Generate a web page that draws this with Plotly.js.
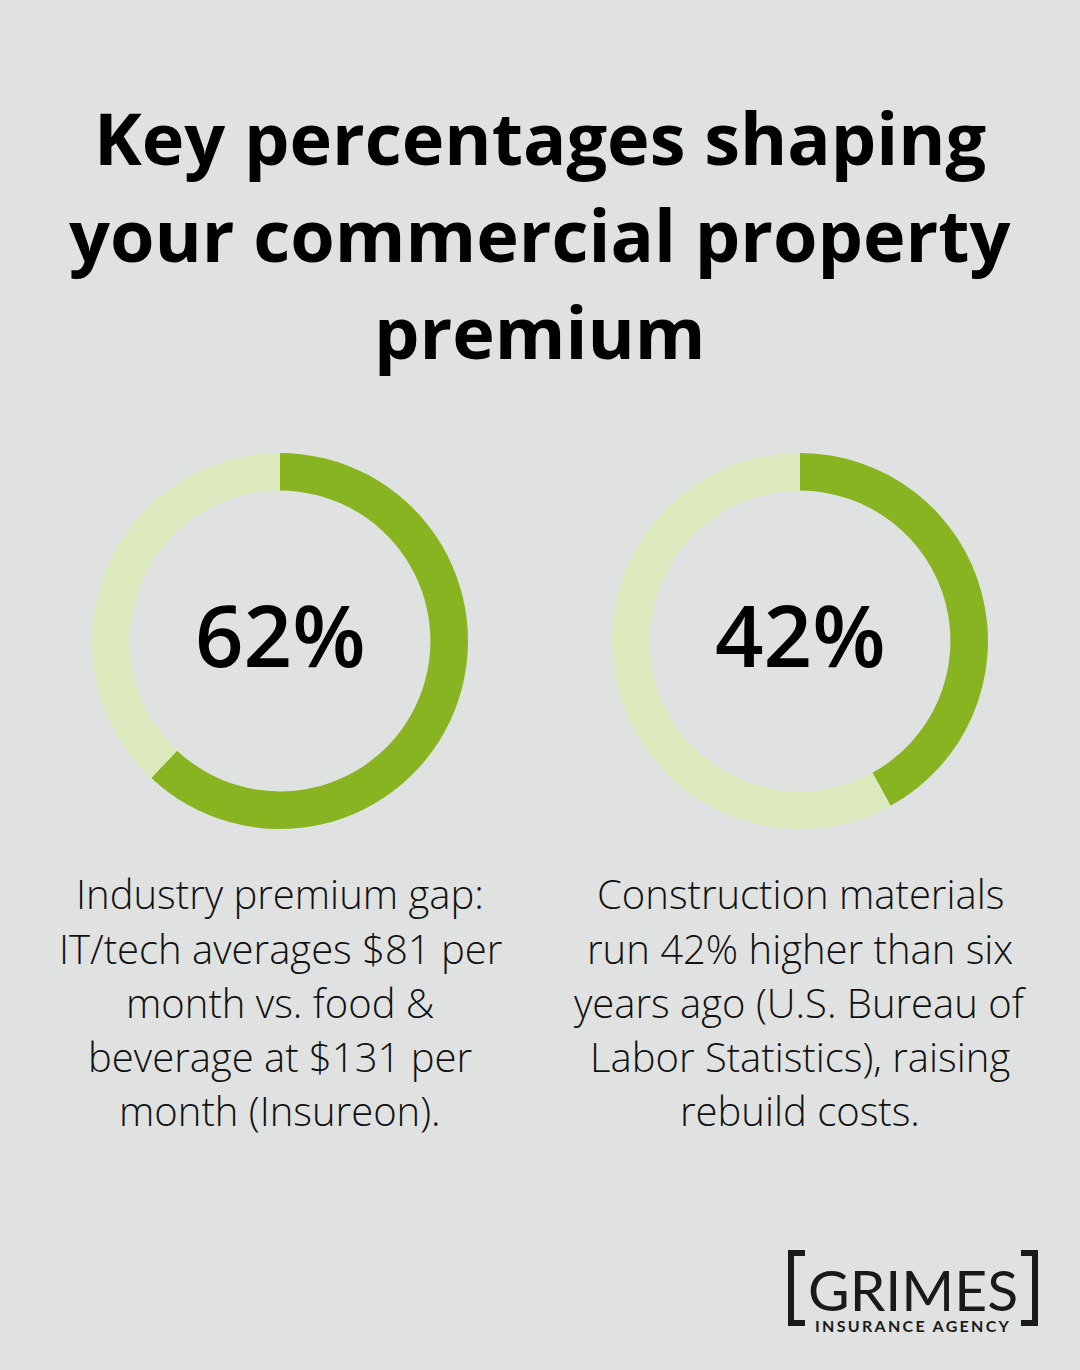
<!DOCTYPE html>
<html>
<head>
<meta charset="utf-8">
<script src="https://cdn.plot.ly/plotly-3.0.1.min.js"></script>
<style>
  html, body { margin: 0; padding: 0; background: #e0e2e1; }
  #chart { width: 1080px; height: 1370px; }
</style>
</head>
<body>
<div id="chart"></div>
<script>
// ---- data ----
const titleLines = ["Key percentages shaping", "your commercial property", "premium"];
const statLabels = ["62%", "42%"];
const statValues = [62, 42];
const remainderValues = [38, 58];
const sliceNames = ["Share", "Remainder"];
const leftCaption = ["Industry premium gap:", "IT/tech averages $81 per", "month vs. food &", "beverage at $131 per", "month (Insureon)."];
const rightCaption = ["Construction materials", "run 42% higher than six", "years ago (U.S. Bureau of", "Labor Statistics), raising", "rebuild costs."];
const logoName = "GRIMES";
const logoSub = "INSURANCE AGENCY";

// ---- layout helpers ----
const W = 1080, H = 1370;
const px = x => x / W;
const py = y => 1 - y / H;

const darkGreen = "#88b421";
const lightGreen = "#dce9bd";
const bg = "#e0e2e1";

const centersX = [280, 800];
const centerY = 641;
const R = 188;

const traces = statValues.map((v, i) => ({
  type: "pie",
  values: [v, remainderValues[i]],
  labels: sliceNames,
  sort: false,
  direction: "clockwise",
  rotation: 0,
  hole: 0.8,
  textinfo: "none",
  hoverinfo: "skip",
  showlegend: false,
  marker: { colors: [darkGreen, lightGreen], line: { width: 0 } },
  domain: {
    x: [px(centersX[i] - R), px(centersX[i] + R)],
    y: [py(centerY + R), py(centerY - R)]
  }
}));

const annotations = [];
const titleY = [137, 234, 331];
titleLines.forEach((t, i) => annotations.push({
  text: t, xref: "paper", yref: "paper", x: 0.5, y: py(titleY[i]),
  xanchor: "center", yanchor: "middle", showarrow: false,
  font: { family: "Open Sans", size: 72, color: "#000000", weight: 700 }
}));

statLabels.forEach((t, i) => annotations.push({
  text: t, xref: "paper", yref: "paper", x: px(centersX[i]), y: py(634),
  xanchor: "center", yanchor: "middle", showarrow: false,
  font: { family: "Open Sans", size: 85, color: "#000000", weight: 600 }
}));

const capY = [894, 948, 1002, 1056, 1110];
[leftCaption, rightCaption].forEach((lines, j) => {
  lines.forEach((t, i) => annotations.push({
    text: t, xref: "paper", yref: "paper", x: px(centersX[j]), y: py(capY[i]),
    xanchor: "center", yanchor: "middle", showarrow: false,
    font: { family: "Open Sans", size: 40, color: "#111111", weight: 300 }
  }));
});

annotations.push({
  text: logoName, xref: "paper", yref: "paper", x: px(913), y: py(1289),
  xanchor: "center", yanchor: "middle", showarrow: false, height: 44, valign: "middle",
  font: { family: "Lato", size: 57, color: "#1a1a1a", weight: 400 }
});
annotations.push({
  text: `<span style="letter-spacing:2.3px">${logoSub}</span>`, xref: "paper", yref: "paper", x: px(913), y: py(1325),
  xanchor: "center", yanchor: "middle", showarrow: false, height: 16,
  font: { family: "Lato", size: 16, color: "#1a1a1a", weight: 700 }
});

const bracket = (xs, xe) => ({
  type: "path", xref: "paper", yref: "paper",
  path: `M ${px(xe)} ${py(1253)} L ${px(xs)} ${py(1253)} L ${px(xs)} ${py(1323)} L ${px(xe)} ${py(1323)}`,
  line: { color: "#1a1a1a", width: 6 }, fillcolor: "rgba(0,0,0,0)"
});
const shapes = [bracket(791, 805), bracket(1035, 1021)];

const layout = {
  width: W, height: H,
  margin: { l: 0, r: 0, t: 0, b: 0 },
  paper_bgcolor: bg, plot_bgcolor: bg,
  showlegend: false,
  annotations, shapes
};

Plotly.newPlot("chart", traces, layout, { staticPlot: true, displayModeBar: false });
</script>
</body>
</html>
